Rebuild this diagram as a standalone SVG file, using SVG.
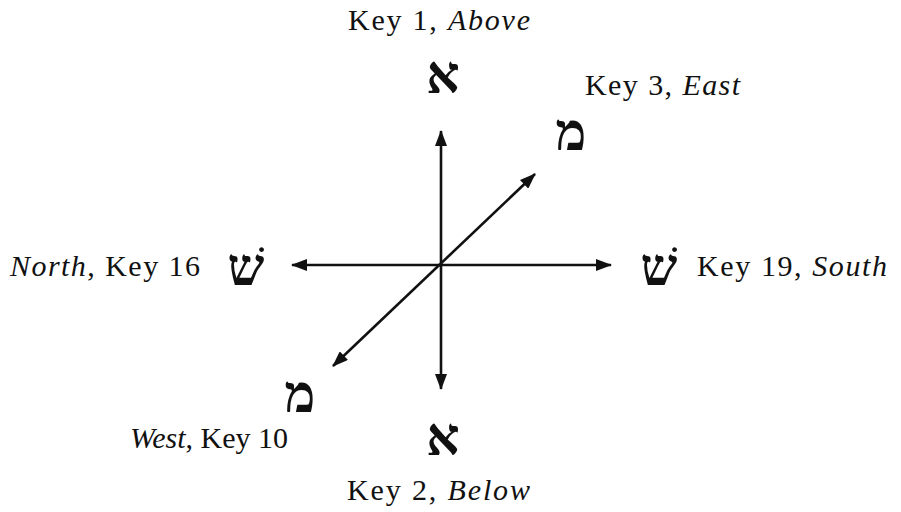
<svg xmlns="http://www.w3.org/2000/svg" width="901" height="512" viewBox="0 0 901 512">
<style>
.lbl{font-family:"Liberation Serif","Times New Roman",serif;font-size:30px;fill:#111}
.it{font-style:italic}
.heb{font-family:"Liberation Serif","DejaVu Serif",serif;font-size:52px;font-weight:bold;fill:#111;text-anchor:middle}
.ax{stroke:#111;stroke-width:2.6;fill:none;marker-start:url(#ah);marker-end:url(#ah)}
</style>
<defs>
<marker id="ah" viewBox="0 0 16 12" refX="15" refY="6" markerWidth="16" markerHeight="12" markerUnits="userSpaceOnUse" orient="auto-start-reverse">
<path d="M0,0 L16,6 L0,12 Z" fill="#111"/>
</marker>
</defs>
<g id="connectors">
<line class="ax" x1="441" y1="131" x2="441" y2="389"/>
<line class="ax" x1="292" y1="265" x2="611" y2="265"/>
<line class="ax" x1="333" y1="366" x2="535" y2="174"/>
</g>
<g id="above">
<text class="lbl" x="348" y="30" textLength="182" lengthAdjust="spacing">Key 1, <tspan class="it">Above</tspan></text>
<text class="heb" x="443" y="93">א</text>
</g>
<g id="below">
<text class="heb" x="443" y="455">א</text>
<text class="lbl" x="347" y="500" textLength="183" lengthAdjust="spacing">Key 2, <tspan class="it">Below</tspan></text>
</g>
<g id="east">
<text class="lbl" x="585" y="95" textLength="155" lengthAdjust="spacing">Key 3, <tspan class="it">East</tspan></text>
<text class="heb" x="571" y="150">מ</text>
</g>
<g id="west">
<text class="heb" x="300" y="412">מ</text>
<text class="lbl" x="130" y="448" textLength="158" lengthAdjust="spacing"><tspan class="it">West</tspan>, Key 10</text>
</g>
<g id="north">
<text class="lbl" x="10" y="276" textLength="190" lengthAdjust="spacing"><tspan class="it">North</tspan>, Key 16</text>
<text class="heb" x="246" y="285">שׁ</text>
</g>
<g id="south">
<text class="heb" x="659" y="285">שׁ</text>
<text class="lbl" x="697" y="276" textLength="190" lengthAdjust="spacing">Key 19, <tspan class="it">South</tspan></text>
</g>
</svg>
